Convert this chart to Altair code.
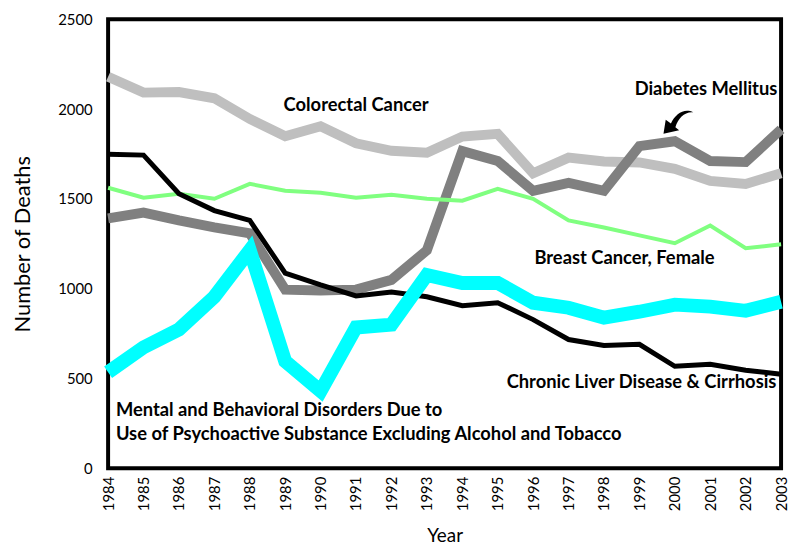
import altair as alt
import pandas as pd

years = list(range(1984, 2004))

colorectal = [2180, 2092, 2095, 2060, 1945, 1849, 1904, 1810, 1768, 1757, 1847, 1862, 1643, 1730, 1708, 1703, 1667, 1600, 1583, 1643]
diabetes = [1391, 1424, 1380, 1341, 1308, 995, 990, 995, 1049, 1214, 1766, 1711, 1545, 1589, 1545, 1794, 1821, 1711, 1705, 1887]
breast = [1562, 1507, 1529, 1501, 1584, 1545, 1534, 1507, 1523, 1501, 1490, 1556, 1501, 1380, 1341, 1297, 1253, 1352, 1225, 1247]
liver = [1749, 1744, 1529, 1435, 1380, 1087, 1021, 960, 982, 955, 905, 922, 828, 717, 684, 690, 568, 579, 546, 524]
mental = [535, 673, 773, 955, 1214, 596, 430, 784, 800, 1076, 1032, 1032, 922, 894, 839, 872, 911, 900, 877, 927]

series_names = ["Colorectal Cancer", "Diabetes Mellitus", "Breast Cancer, Female",
                "Chronic Liver Disease & Cirrhosis", "Mental Disorders"]
series_values = [colorectal, diabetes, breast, liver, mental]
series_colors = ["#bfbfbf", "#808080", "#80ff80", "#000000", "#00ffff"]
series_widths = [10, 10, 4, 5, 14]

label_text = ["Colorectal Cancer", "Diabetes Mellitus", "Breast Cancer, Female",
              "Chronic Liver Disease & Cirrhosis"]
label_x = [1991.0, 2000.88, 1998.58, 1999.06]
label_y = [2025, 2114, 1170, 480]

mental_lines = ["Mental and Behavioral Disorders Due to",
                "Use of Psychoactive Substance Excluding Alcohol and Tobacco"]
mental_x = [1984.22, 1984.22]
mental_y = [326, 188]

arrow_x = [2000.1]
arrow_y = [1945]

x_enc = alt.X("Year:Q",
              scale=alt.Scale(domain=[1984, 2003], nice=False, zero=False),
              axis=alt.Axis(values=years, format="d", labelAngle=270, labelAlign="right",
                            labelBaseline="middle", labelPadding=8, ticks=False, domain=False,
                            grid=False, title="Year", titleFontSize=19, titleFont="Lato",
                            titleFontWeight="normal", titlePadding=16, labelFont="Lato",
                            labelFontSize=15, labelColor="#000", titleColor="#000",
                            labelOverlap=False, labelBound=False, labelFlush=False))
y_enc = alt.Y("Deaths:Q",
              scale=alt.Scale(domain=[0, 2500], nice=False),
              axis=alt.Axis(values=[0, 500, 1000, 1500, 2000, 2500], format="d", ticks=False,
                            domain=False, grid=False, title="Number of Deaths", titleFontSize=22,
                            titleFont="Lato", titleFontWeight="normal", titlePadding=24,
                            labelPadding=16, labelFont="Lato", labelFontSize=15,
                            labelColor="#000", titleColor="#000", labelFlush=False))

layers = []
for name, vals, col, w in zip(series_names, series_values, series_colors, series_widths):
    df = pd.DataFrame({"Year": years, "Deaths": vals, "Series": name})
    layers.append(
        alt.Chart(df).mark_line(color=col, strokeWidth=w, strokeJoin="miter", strokeCap="butt")
        .encode(x=x_enc, y=y_enc)
    )

lab_df = pd.DataFrame({"Year": label_x, "Deaths": label_y, "Text": label_text})
layers.append(
    alt.Chart(lab_df).mark_text(font="Lato", fontWeight="bold", fontSize=18.5, color="#000",
                                align="center", baseline="middle")
    .encode(x=x_enc, y=y_enc, text="Text:N")
)

m_df = pd.DataFrame({"Year": mental_x, "Deaths": mental_y, "Text": mental_lines})
layers.append(
    alt.Chart(m_df).mark_text(font="Lato", fontWeight="bold", fontSize=18.5, color="#000",
                              align="left", baseline="middle")
    .encode(x=x_enc, y=y_enc, text="Text:N")
)

arrow_path = ("M -1 1 L -0.85 0.05 L -0.5 0.3 C -0.2 -0.35 0.4 -0.75 1 -0.45 "
              "C 0.4 -0.5 0 -0.05 -0.2 0.55 L 0.05 0.75 Z")
a_df = pd.DataFrame({"Year": arrow_x, "Deaths": arrow_y})
layers.append(
    alt.Chart(a_df).mark_point(shape=arrow_path, size=900, filled=True, color="#000", opacity=1)
    .encode(x=x_enc, y=y_enc)
)

chart = alt.layer(*layers).properties(
    width=679, height=453,
    autosize=alt.AutoSizeParams(type="none"),
    padding={"left": 101, "top": 9, "right": 8, "bottom": 76},
    view=alt.ViewBackground(stroke="#000", strokeWidth=4, fill="white"),
).configure(background="white").configure_axisX(labelOverlap=False)

chart.save("out.html", embed_options={"renderer": "svg", "actions": False})
